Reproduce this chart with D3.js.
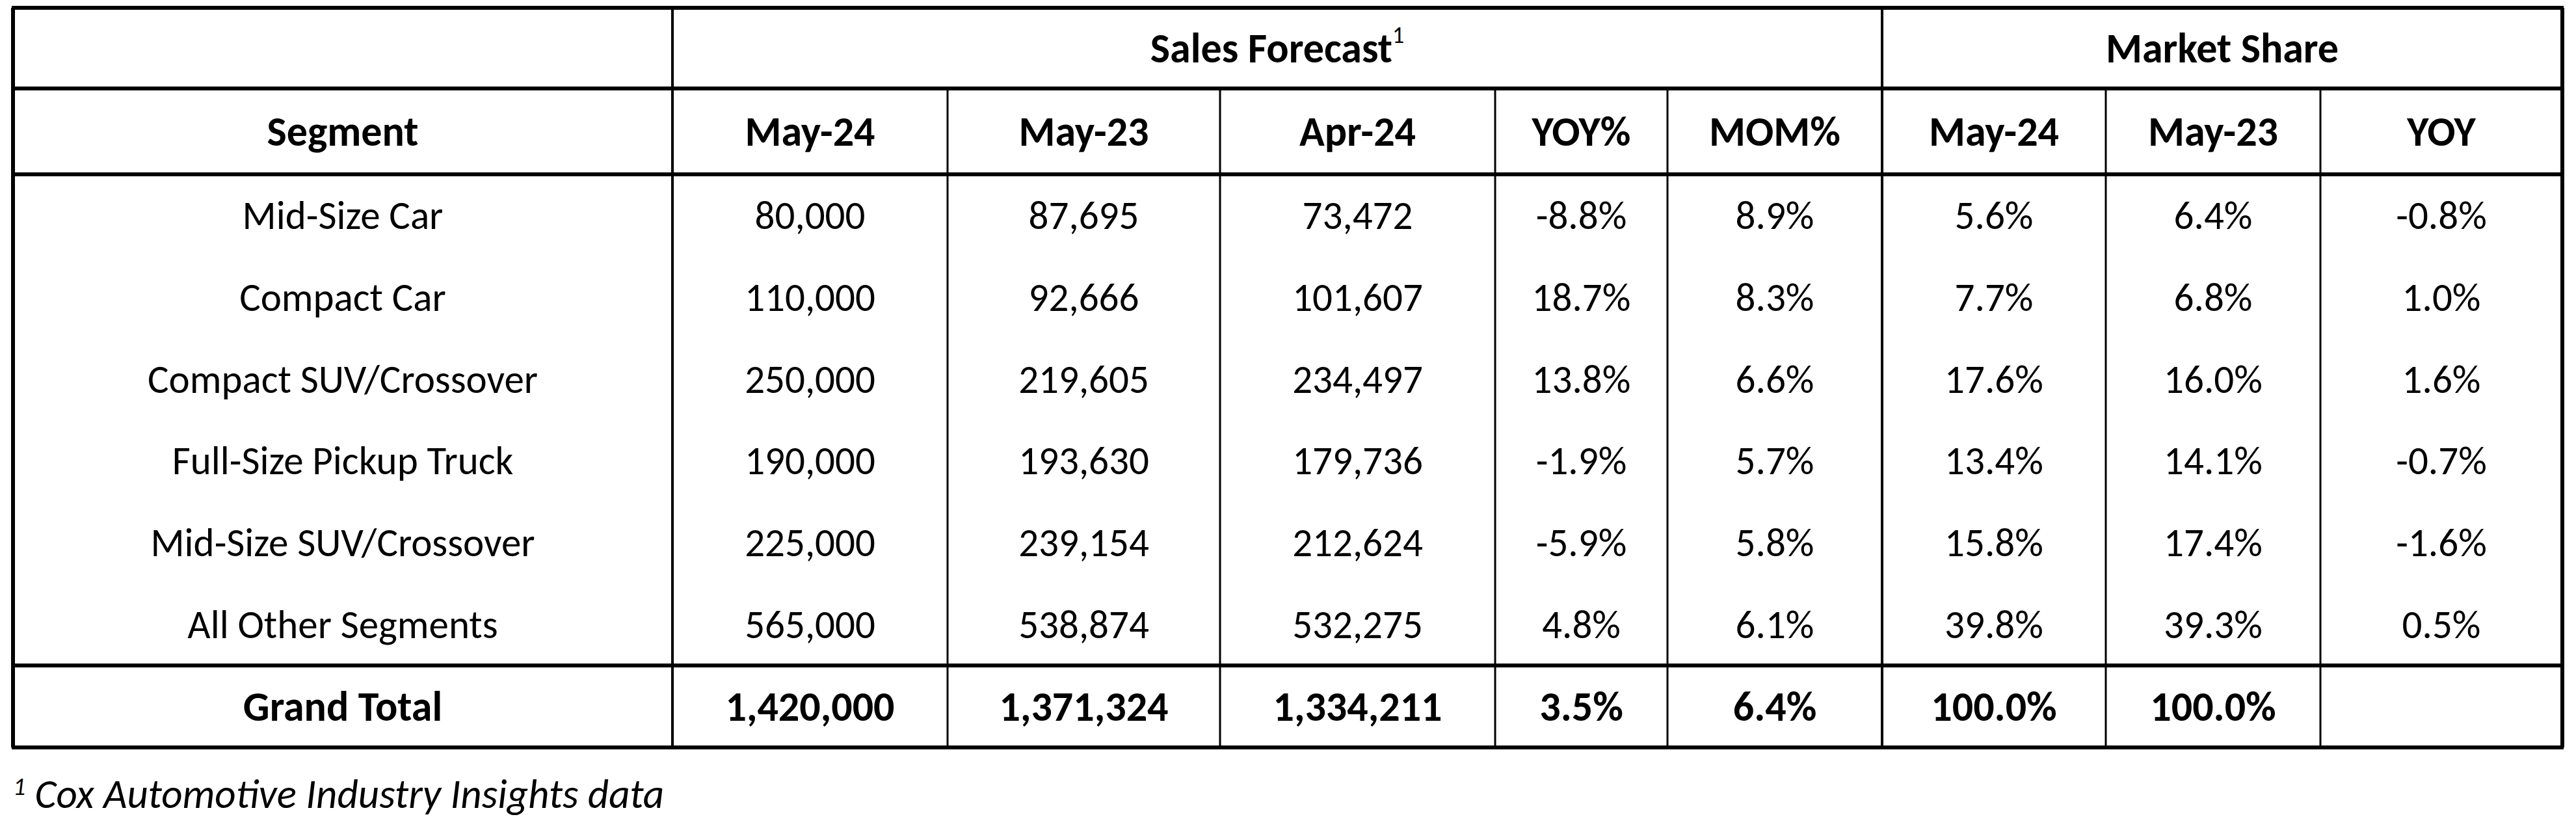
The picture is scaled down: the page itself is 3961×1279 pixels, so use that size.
<!DOCTYPE html>
<html><head><meta charset="utf-8">
<script src="https://cdn.jsdelivr.net/npm/d3@7"></script>
<style>body{margin:0;background:#fff}</style></head>
<body><svg id="c" width="3961" height="1279"></svg>
<script>
const segments = ["Mid-Size Car","Compact Car","Compact SUV/Crossover","Full-Size Pickup Truck","Mid-Size SUV/Crossover","All Other Segments"];
const salesMay24 = ["80,000","110,000","250,000","190,000","225,000","565,000"];
const salesMay23 = ["87,695","92,666","219,605","193,630","239,154","538,874"];
const salesApr24 = ["73,472","101,607","234,497","179,736","212,624","532,275"];
const yoyPct = ["-8.8%","18.7%","13.8%","-1.9%","-5.9%","4.8%"];
const momPct = ["8.9%","8.3%","6.6%","5.7%","5.8%","6.1%"];
const shareMay24 = ["5.6%","7.7%","17.6%","13.4%","15.8%","39.8%"];
const shareMay23 = ["6.4%","6.8%","16.0%","14.1%","17.4%","39.3%"];
const shareYoy = ["-0.8%","1.0%","1.6%","-0.7%","-1.6%","0.5%"];
const totalRow = ["Grand Total","1,420,000","1,371,324","1,334,211","3.5%","6.4%","100.0%","100.0%",""];
const colHeaders = ["Segment","May-24","May-23","Apr-24","YOY%","MOM%","May-24","May-23","YOY"];
const groupHeaders = [{label:"Sales Forecast",sup:"1",from:1,to:5},{label:"Market Share",sup:"",from:6,to:8}];
const footnote = "Cox Automotive Industry Insights data";

const colEdges = [20,1034,1457,1876,2299,2564,2894,3238,3568,3940];
const svg = d3.select("#c");
const font = "Carlito, 'Liberation Sans Narrow', Lato, sans-serif";
const rowKeys = ["g","h",...segments.map((d,i)=>"r"+i),"t"];
const rowEdges=[12,136,268];
for(let i=0;i<6;i++) rowEdges.push(268+(1023-268)/6*(i+1));
rowEdges.push(1149);
const yc = k => (rowEdges[rowKeys.indexOf(k)]+rowEdges[rowKeys.indexOf(k)+1])/2;
const xc = i => (colEdges[i]+colEdges[i+1])/2;

const data = segments.map((s,i)=>[s,salesMay24[i],salesMay23[i],salesApr24[i],yoyPct[i],momPct[i],shareMay24[i],shareMay23[i],shareYoy[i]]);
function txt(x,yv,t,bold){
  svg.append("text").attr("x",x).attr("y",yv).attr("text-anchor","middle").attr("dominant-baseline","central")
   .attr("font-family",font).attr("font-size",bold?64:61).attr("font-weight",bold?"bold":"normal").attr("fill","#000").text(t);
}
groupHeaders.forEach(g=>{
  const cx=(colEdges[g.from]+colEdges[g.to+1])/2;
  const t=svg.append("text").attr("x",cx).attr("y",yc("g")).attr("text-anchor","middle").attr("dominant-baseline","central")
   .attr("font-family",font).attr("font-size",64).attr("font-weight","bold").text(g.label);
  if(g.sup) t.append("tspan").attr("font-size",36).attr("font-weight","normal").attr("dy",-20).text(g.sup);
});
colHeaders.forEach((h,i)=>txt(xc(i),yc("h"),h,true));
data.forEach((r,ri)=>r.forEach((v,ci)=>txt(xc(ci),yc("r"+ri),v,false)));
totalRow.forEach((v,ci)=>txt(xc(ci),yc("t"),v,true));

const L=(x1,y1,x2,y2,w)=>svg.append("line").attr("x1",x1).attr("y1",y1).attr("x2",x2).attr("y2",y2).attr("stroke","#000").attr("stroke-width",w);
const X0=colEdges[0],X1=colEdges[9];
[12,136,268,1023,1149].forEach(yy=>L(X0-2,yy,X1+2,yy,6));
L(X0,12,X0,1149,6); L(X1,12,X1,1149,6);
L(colEdges[1],12,colEdges[1],1149,4);
L(colEdges[6],12,colEdges[6],1149,4);
[2,3,4,5,7,8].forEach(i=>L(colEdges[i],136,colEdges[i],1149,3));

const f=svg.append("text").attr("x",20).attr("y",1242).attr("font-family",font).attr("font-size",63).attr("font-style","italic");
f.append("tspan").attr("font-size",38).attr("dy",-20).text("1");
f.append("tspan").attr("dy",20).text(" "+footnote);
</script></body></html>
